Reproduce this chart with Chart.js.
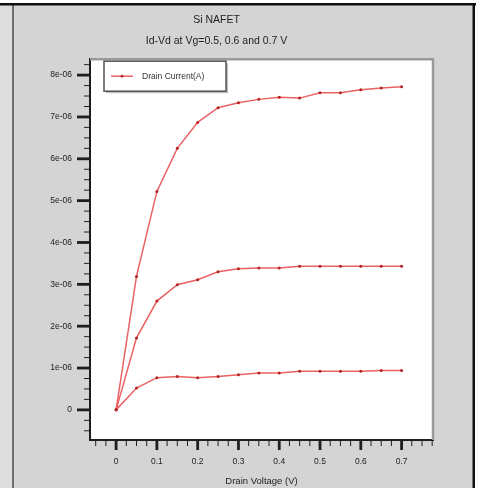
<!DOCTYPE html>
<html>
<head>
<meta charset="utf-8">
<script src="https://cdn.jsdelivr.net/npm/chart.js@4.4.1/dist/chart.umd.min.js"></script>
<style>
  html, body { margin: 0; padding: 0; background: #fff; }
  #wrap { width: 481px; height: 488px; }
</style>
</head>
<body>
<div id="wrap"><canvas id="ivchart" width="481" height="488"></canvas></div>
<script>
// drain voltage (V)
const drainVolts = [0, 0.05, 0.1, 0.15, 0.2, 0.25, 0.3, 0.35, 0.4, 0.45, 0.5, 0.55, 0.6, 0.65, 0.7]
// drain current (A) for each gate voltage
const idVg07 = [0, 3.19e-6, 5.22e-6, 6.25e-6, 6.87e-6, 7.22e-6, 7.34e-6, 7.42e-6, 7.47e-6, 7.45e-6, 7.58e-6, 7.58e-6, 7.65e-6, 7.69e-6, 7.72e-6]
const idVg06 = [0, 1.72e-6, 2.60e-6, 2.99e-6, 3.11e-6, 3.30e-6, 3.37e-6, 3.39e-6, 3.39e-6, 3.43e-6, 3.43e-6, 3.43e-6, 3.43e-6, 3.43e-6, 3.43e-6]
const idVg05 = [0, 0.52e-6, 0.77e-6, 0.80e-6, 0.77e-6, 0.80e-6, 0.84e-6, 0.88e-6, 0.88e-6, 0.92e-6, 0.92e-6, 0.92e-6, 0.92e-6, 0.94e-6, 0.94e-6]

const xTickValues = [0, 0.1, 0.2, 0.3, 0.4, 0.5, 0.6, 0.7]
const xTickLabels = ['0', '0.1', '0.2', '0.3', '0.4', '0.5', '0.6', '0.7']
const yTickValues = [0, 1e-6, 2e-6, 3e-6, 4e-6, 5e-6, 6e-6, 7e-6, 8e-6]
const yTickLabels = ['0', '1e-06', '2e-06', '3e-06', '4e-06', '5e-06', '6e-06', '7e-06', '8e-06']

const FONT = "'Liberation Sans', Arial, sans-serif"
const lineRed = 'rgba(232,80,80,0.9)'
const dotRed = '#b42424'

function makeSet(label, ys){
    return {
        label: label,
        data: drainVolts.map((v, i) => ({x: v, y: ys[i]})),
        borderColor: lineRed,
        borderWidth: 1.5,
        pointRadius: 1.5,
        pointBackgroundColor: dotRed,
        pointBorderWidth: 0,
        tension: 0,
        fill: false
    }
}

// frame, outward ticks and boxed legend like the original plot
const framePlugin = {
    id: 'framePlugin',
    beforeDraw(chart){
        const ctx = chart.ctx
        const a = chart.chartArea
        ctx.save()
        ctx.fillStyle = '#ffffff'
        ctx.fillRect(0, 0, chart.width, chart.height)
        ctx.fillStyle = '#d4d4d4'
        ctx.fillRect(0, 5, 474, chart.height)
        ctx.fillStyle = '#dddddd'
        ctx.fillRect(0, 5, 12, chart.height)
        ctx.fillStyle = '#6e6e6e'
        ctx.fillRect(12, 5, 2, chart.height)
        ctx.fillStyle = '#111'
        ctx.fillRect(0, 3, 476, 2.5)
        ctx.fillRect(472.5, 3, 2.5, chart.height)
        ctx.fillStyle = '#ffffff'
        ctx.fillRect(a.left, a.top, a.right - a.left, a.bottom - a.top)
        ctx.restore()
    },
    afterDraw(chart){
        const ctx = chart.ctx
        const a = chart.chartArea
        const xs = chart.scales.x
        const ys = chart.scales.y
        ctx.save()
        // top/right frame
        ctx.strokeStyle = '#9a9a9a'
        ctx.lineWidth = 2.5
        ctx.beginPath()
        ctx.moveTo(a.left, a.top)
        ctx.lineTo(a.right, a.top)
        ctx.lineTo(a.right, a.bottom)
        ctx.stroke()
        // ticks
        ctx.strokeStyle = '#1e1e1e'
        for(let k = -3; k <= 34; k++){
            const py = ys.getPixelForValue(k * 0.25e-6)
            if(py < a.top + 2 || py > a.bottom - 2) continue
            const major = k % 4 == 0
            ctx.lineWidth = major ? 2.8 : 1
            ctx.beginPath()
            ctx.moveTo(a.left - (major ? 13 : 6), py)
            ctx.lineTo(a.left, py)
            ctx.stroke()
        }
        for(let k = -3; k <= 32; k++){
            const px = xs.getPixelForValue(k * 0.025)
            if(px < a.left + 2 || px > a.right + 1) continue
            const major = k % 4 == 0
            ctx.lineWidth = major ? 2.8 : 1
            ctx.beginPath()
            ctx.moveTo(px, a.bottom)
            ctx.lineTo(px, a.bottom + (major ? 10 : 6))
            ctx.stroke()
        }
        // legend box
        const ds = chart.data.datasets[0]
        const bx = a.left + 14, by = a.top + 2, bw = 122, bh = 30
        ctx.fillStyle = '#bdbdbd'
        ctx.fillRect(bx + 2, by + 2, bw, bh)
        ctx.fillStyle = '#ffffff'
        ctx.fillRect(bx, by, bw, bh)
        ctx.strokeStyle = '#555'
        ctx.lineWidth = 1.5
        ctx.strokeRect(bx, by, bw, bh)
        ctx.strokeStyle = ds.borderColor
        ctx.lineWidth = 1.5
        ctx.beginPath()
        ctx.moveTo(bx + 7, by + 15)
        ctx.lineTo(bx + 29, by + 15)
        ctx.stroke()
        ctx.fillStyle = dotRed
        ctx.beginPath()
        ctx.arc(bx + 18, by + 15, 1.4, 0, Math.PI * 2)
        ctx.fill()
        ctx.fillStyle = '#333'
        ctx.font = '8.5px ' + FONT
        ctx.textBaseline = 'middle'
        ctx.fillText(ds.label, bx + 38, by + 15)
        ctx.restore()
    }
}

const canvasIV = document.getElementById('ivchart')
new Chart(canvasIV, {
    type: 'line',
    data: {
        datasets: [
            makeSet('Drain Current(A)', idVg07),
            makeSet('Vg=0.6', idVg06),
            makeSet('Vg=0.5', idVg05)
        ]
    },
    options: {
        responsive: false,
        animation: false,
        layout: { padding: { left: 0, right: 48, top: 0, bottom: 0 } },
        plugins: {
            legend: { display: false },
            tooltip: { enabled: false },
            title: {
                display: true,
                text: 'Si NAFET',
                color: '#222',
                font: { family: FONT, size: 10.5, weight: 'normal', lineHeight: 1.2 },
                padding: { top: 14, bottom: 4 }
            },
            subtitle: {
                display: true,
                text: 'Id-Vd at Vg=0.5, 0.6 and 0.7 V',
                color: '#222',
                font: { family: FONT, size: 10.5, weight: 'normal', lineHeight: 1.2 },
                padding: { top: 4.5, bottom: 11.5 }
            }
        },
        scales: {
            x: {
                type: 'linear',
                min: -0.064,
                max: 0.777,
                grid: { display: false, drawTicks: false },
                border: { display: true, color: '#1e1e1e', width: 2 },
                afterBuildTicks: s => { s.ticks = xTickValues.map(v => ({value: v})) },
                afterFit: s => { s.height = 48 },
                ticks: {
                    color: '#222',
                    padding: 17,
                    maxRotation: 0,
                    font: { family: FONT, size: 8.5 },
                    callback: (v, i) => xTickLabels[i]
                },
                title: {
                    display: true,
                    text: 'Drain Voltage (V)',
                    color: '#222',
                    font: { family: FONT, size: 9.5 },
                    padding: { top: 0, bottom: 1 }
                }
            },
            y: {
                type: 'linear',
                min: -0.72e-6,
                max: 8.38e-6,
                grid: { display: false, drawTicks: false },
                border: { display: true, color: '#1e1e1e', width: 2 },
                afterBuildTicks: s => { s.ticks = yTickValues.map(v => ({value: v})) },
                afterFit: s => { s.width = 90 },
                ticks: {
                    color: '#222',
                    padding: 18,
                    font: { family: FONT, size: 8.5 },
                    callback: (v, i) => yTickLabels[i]
                }
            }
        }
    },
    plugins: [framePlugin]
})
</script>
</body>
</html>
